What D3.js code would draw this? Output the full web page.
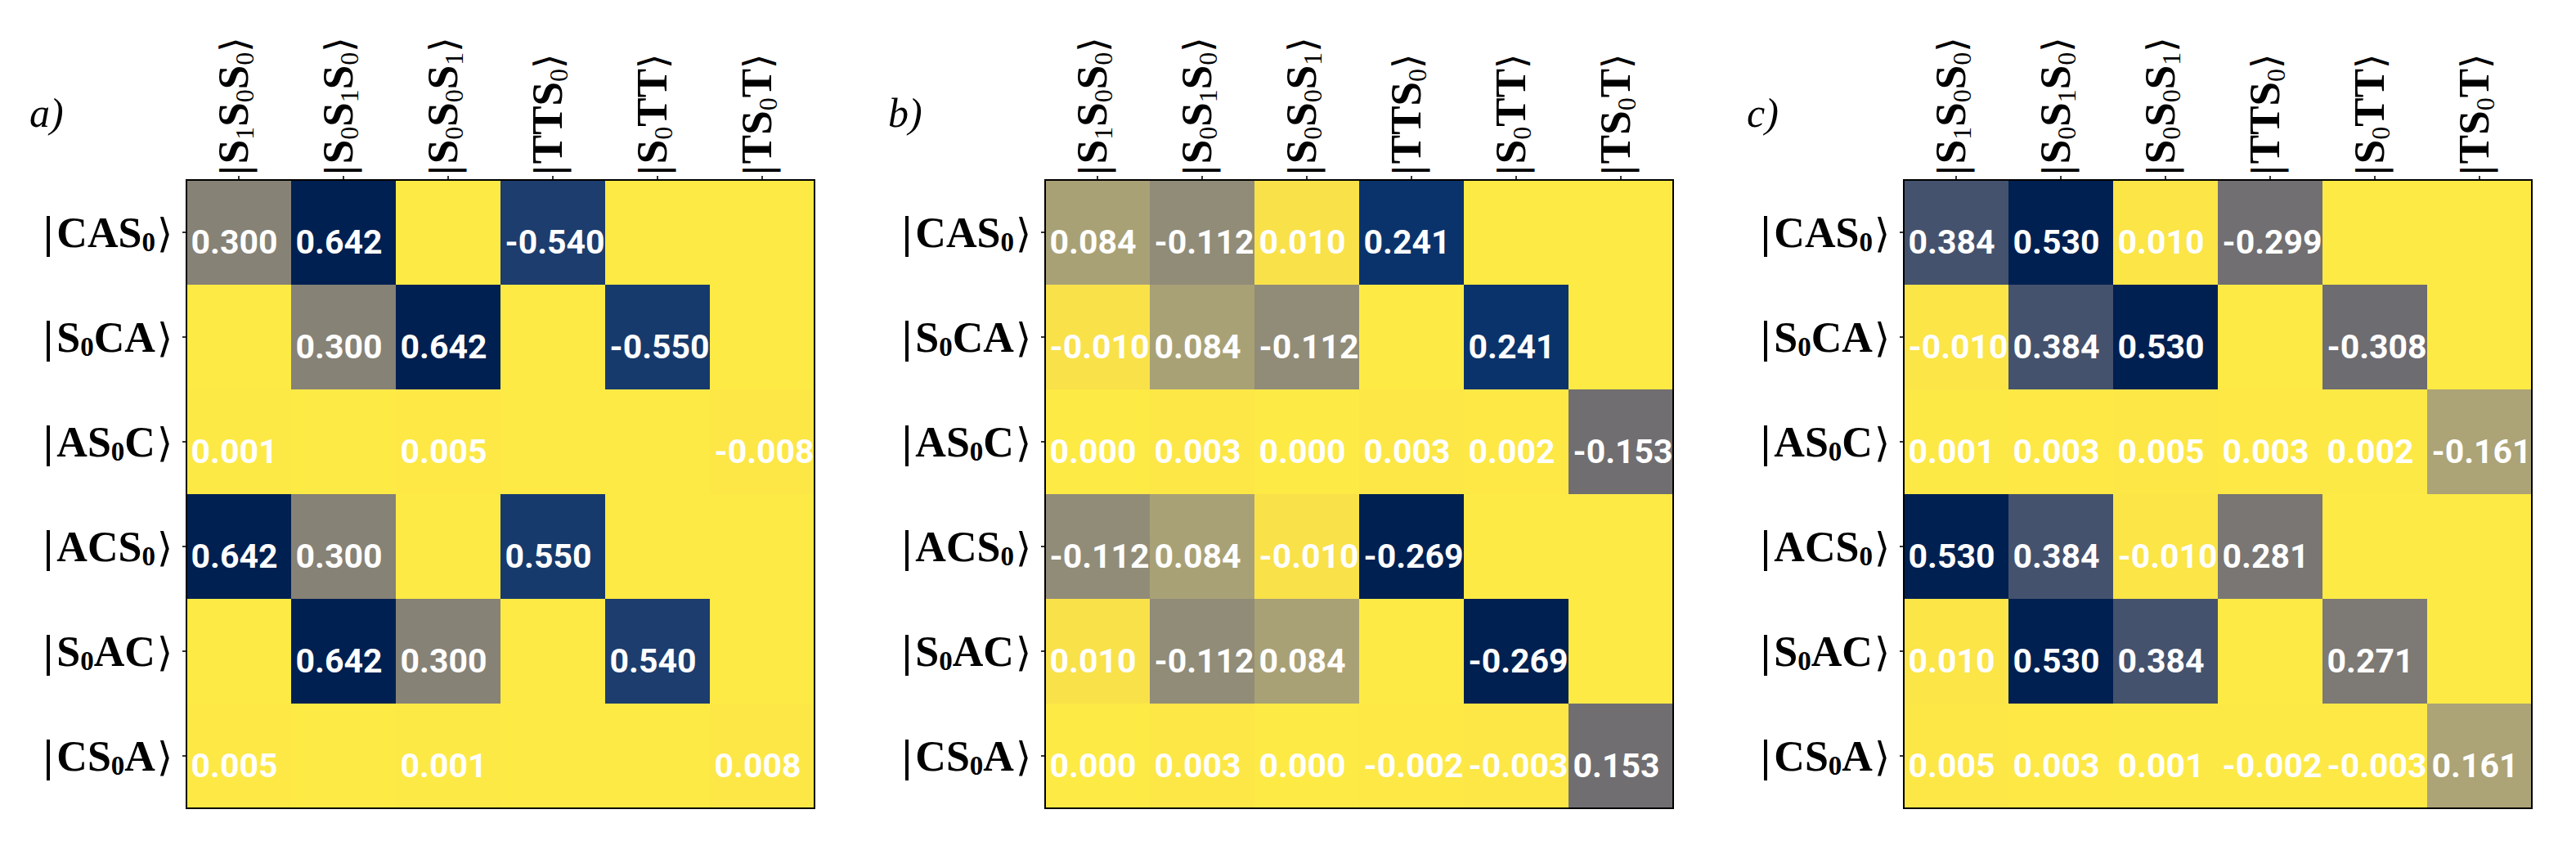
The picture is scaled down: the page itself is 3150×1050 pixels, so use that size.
<!DOCTYPE html>
<html>
<head>
<meta charset="utf-8">
<script src="https://cdn.jsdelivr.net/npm/d3@7"></script>
<style>
  body { margin: 0; background: #fff; }
  svg { display: block; }
</style>
</head>
<body>
<svg id="chart" width="3150" height="1050"></svg>
<script>
// basis states (columns) and configurations (rows)
const colLabels = ["S_1S_0S_0", "S_0S_1S_0", "S_0S_0S_1", "TTS_0", "S_0TT", "TS_0T"];
const rowLabels = ["CAS_0", "S_0CA", "AS_0C", "ACS_0", "S_0AC", "CS_0A"];
const panelTags = ["a", "b", "c"];

// null = empty cell (no number printed)
const valuesA = [
  [0.300, 0.642, null, -0.540, null, null],
  [null, 0.300, 0.642, null, -0.550, null],
  [0.001, null, 0.005, null, null, -0.008],
  [0.642, 0.300, null, 0.550, null, null],
  [null, 0.642, 0.300, null, 0.540, null],
  [0.005, null, 0.001, null, null, 0.008]
];
const valuesB = [
  [0.084, -0.112, 0.010, 0.241, null, null],
  [-0.010, 0.084, -0.112, null, 0.241, null],
  [0.000, 0.003, 0.000, 0.003, 0.002, -0.153],
  [-0.112, 0.084, -0.010, -0.269, null, null],
  [0.010, -0.112, 0.084, null, -0.269, null],
  [0.000, 0.003, 0.000, -0.002, -0.003, 0.153]
];
const valuesC = [
  [0.384, 0.530, 0.010, -0.299, null, null],
  [-0.010, 0.384, 0.530, null, -0.308, null],
  [0.001, 0.003, 0.005, 0.003, 0.002, -0.161],
  [0.530, 0.384, -0.010, 0.281, null, null],
  [0.010, 0.530, 0.384, null, 0.271, null],
  [0.005, 0.003, 0.001, -0.002, -0.003, 0.161]
];
const panels = [valuesA, valuesB, valuesC];

const panelWidth = 1050;
const margin = { left: 228, top: 220 };
const size = 768;

const fmt = d3.formatLocale({
  decimal: ".", thousands: ",", grouping: [3], currency: ["", ""], minus: "-"
}).format(".3f");

const svg = d3.select("#chart");

// writes |XY_0Z⟩ into a text element using tspans
function ketLabel(text, str, o) {
  text.append("tspan")
    .attr("font-family", "DejaVu Sans")
    .attr("font-size", o.barSize)
    .text("|");
  let shift = 0;
  const parts = str.match(/[A-Z]+|_\d/g);
  parts.forEach((p, i) => {
    const t = text.append("tspan").attr("font-family", "Liberation Serif");
    if (p[0] === "_") {
      t.attr("font-size", o.subSize)
        .attr("font-weight", o.subWeight)
        .attr("dy", o.subShift - shift)
        .text(p.slice(1));
      shift = o.subShift;
    } else {
      t.attr("font-size", o.size)
        .attr("font-weight", "bold")
        .attr("dy", -shift)
        .text(p);
      shift = 0;
    }
    if (i === 0) t.attr("dx", o.lead);
  });
  text.append("tspan")
    .attr("font-family", "DejaVu Sans")
    .attr("font-size", o.barSize)
    .attr("dx", o.gap)
    .attr("dy", -shift)
    .text("\u27E9");
}

panels.forEach((values, p) => {
  const g = svg.append("g")
    .attr("transform", `translate(${p * panelWidth + margin.left},${margin.top})`);

  const x = d3.scaleBand().domain(d3.range(colLabels.length)).range([0, size]);
  const y = d3.scaleBand().domain(d3.range(rowLabels.length)).range([0, size]);

  const maxAbs = d3.max(values.flat(), d => Math.abs(d || 0));
  const color = d3.scaleSequential(t => d3.interpolateCividis(1 - t)).domain([0, maxAbs]);

  const cells = [];
  values.forEach((row, i) => row.forEach((v, j) => cells.push({ i, j, v })));

  g.selectAll("rect.cell")
    .data(cells)
    .join("rect")
    .attr("class", "cell")
    .attr("x", d => x(d.j))
    .attr("y", d => y(d.i))
    .attr("width", x.bandwidth() + 0.5)
    .attr("height", y.bandwidth() + 0.5)
    .attr("fill", d => color(Math.abs(d.v || 0)));

  g.selectAll("text.val")
    .data(cells.filter(d => d.v !== null))
    .join("text")
    .attr("class", "val")
    .attr("x", d => x(d.j) + 5.5)
    .attr("y", d => y(d.i) + y.bandwidth() / 2 + 26)
    .attr("fill", "#fff")
    .attr("font-family", "Roboto")
    .attr("font-weight", "bold")
    .attr("font-size", 41)
    .text(d => fmt(d.v));

  // frame
  g.append("rect")
    .attr("width", size)
    .attr("height", size)
    .attr("fill", "none")
    .attr("stroke", "#000")
    .attr("stroke-width", 2);

  // ticks
  const topAxis = g.append("g")
    .call(d3.axisTop(x).tickSize(5).tickFormat(""));
  const leftAxis = g.append("g")
    .call(d3.axisLeft(y).tickSize(5).tickFormat(""));
  [topAxis, leftAxis].forEach(a => {
    a.select(".domain").remove();
    a.selectAll("line").attr("stroke-width", 1.6);
  });

  // column labels, rotated
  colLabels.forEach((lab, j) => {
    const t = g.append("text")
      .attr("transform", `translate(${x(j) + x.bandwidth() / 2},-4) rotate(-90)`)
      .attr("y", 11)
      .attr("text-anchor", "start")
      .attr("fill", "#000");
    ketLabel(t, lab, { size: 53, subSize: 32, subWeight: "normal", subShift: 7, barSize: 47, lead: 0, gap: 0 });
  });

  // row labels
  rowLabels.forEach((lab, i) => {
    const t = g.append("text")
      .attr("x", -17)
      .attr("y", y(i) + y.bandwidth() / 2 + 18)
      .attr("text-anchor", "end")
      .attr("fill", "#000");
    ketLabel(t, lab, { size: 52, subSize: 33, subWeight: "bold", subShift: 5, barSize: 49, lead: 2, gap: 2 });
  });

  // panel tag
  svg.append("text")
    .attr("x", p * panelWidth + 36)
    .attr("y", 155)
    .attr("font-family", "Liberation Serif")
    .attr("font-style", "italic")
    .attr("font-size", 50)
    .attr("fill", "#000")
    .text(panelTags[p] + ")");
});
</script>
</body>
</html>
